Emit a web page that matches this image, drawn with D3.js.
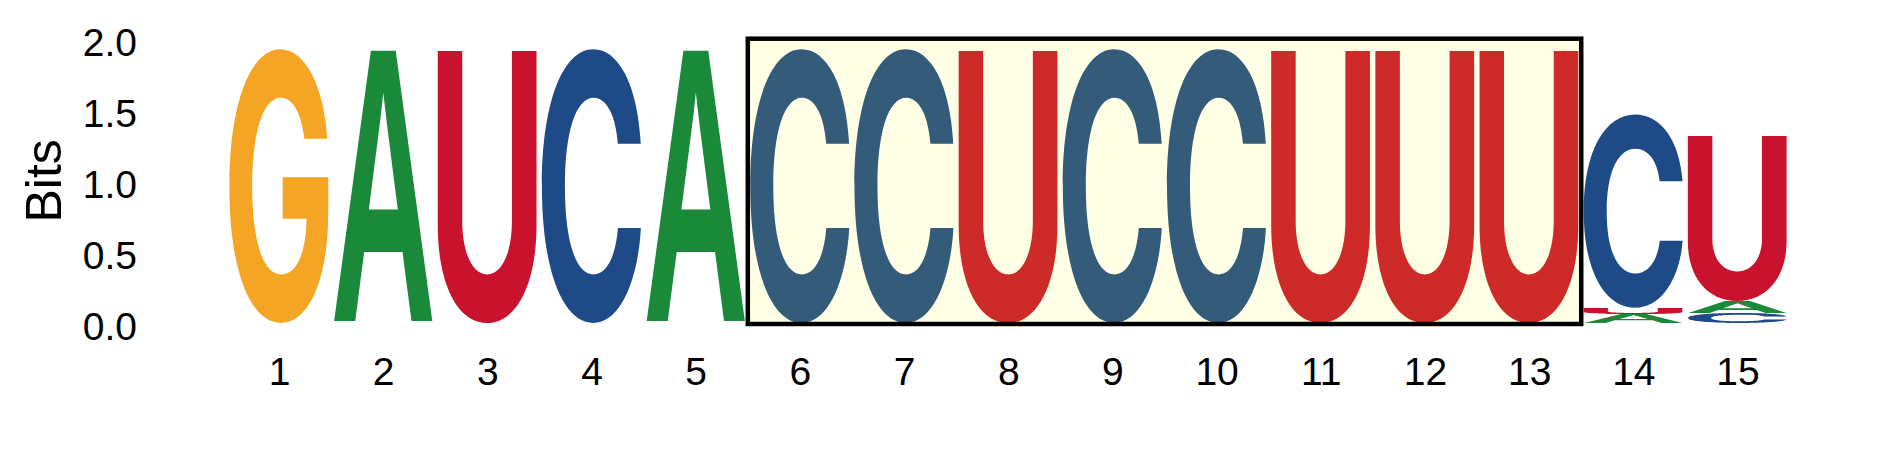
<!DOCTYPE html>
<html><head><meta charset="utf-8">
<script src="https://cdn.jsdelivr.net/npm/d3@7"></script>
<style>html,body{margin:0;padding:0;background:#fff;} svg{display:block}</style>
</head><body>
<svg id="chart" width="1889" height="472"></svg>
<script>
// ---- data ----
const positions = d3.range(1, 16);
const bases = ["A", "C", "G", "U"];
const bitsA = [0, 1.92, 0, 0, 1.92, 0, 0, 0, 0, 0, 0, 0, 0, 0.066, 0.082];
const bitsC = [0, 0, 0, 1.92, 0, 1.92, 1.92, 0, 1.92, 1.92, 0, 0, 0, 1.356, 0.068];
const bitsG = [1.92, 0, 0, 0, 0, 0, 0, 0, 0, 0, 0, 0, 0, 0, 0];
const bitsU = [0, 0, 1.92, 0, 0, 0, 0, 1.92, 0, 0, 1.92, 1.92, 1.92, 0.041, 1.166];
// bottom-to-top stacking order at each position
const stackOrder = [
  ["G"], ["A"], ["U"], ["C"], ["A"], ["C"], ["C"], ["U"], ["C"], ["C"],
  ["U"], ["U"], ["U"], ["A", "U", "C"], ["C", "A", "U"]
];
const yTicks = [0, 0.5, 1.0, 1.5, 2.0];
const yLabel = "Bits";
const highlightStart = 6, highlightEnd = 13, highlightTop = 2.0, highlightBottom = -0.007;
const baseColors = {A: "#1A8A3A", C: "#1E4A88", G: "#F4A523", U: "#C8122E"};

const bitsByBase = {A: bitsA, C: bitsC, G: bitsG, U: bitsU};

// ---- layout ----
const svg = d3.select("#chart");
const x = d3.scaleLinear().domain([1, 15]).range([279, 1737.5]);
const step = x(2) - x(1);
const letterW = step * 0.955;
const y = d3.scaleLinear().domain([0, 2]).range([323, 38.7]);
const FONT = "'Liberation Sans', Arial, Helvetica, sans-serif";
const glyphFont = {
  A: "'Liberation Sans', Arial, sans-serif",
  C: "Inter, 'Liberation Sans', Arial, sans-serif",
  G: "Inter, 'Liberation Sans', Arial, sans-serif",
  U: "Inter, 'Liberation Sans', Arial, sans-serif"
};
const GWEIGHT = 700;

// measure glyph ink boxes
const cv = document.createElement("canvas").getContext("2d");
const GFS = 200;
const ink = {};
bases.forEach(b => {
  cv.font = `${GWEIGHT} ${GFS}px ${glyphFont[b]}`;
  const m = cv.measureText(b);
  ink[b] = {L: m.actualBoundingBoxLeft, R: m.actualBoundingBoxRight,
            A: m.actualBoundingBoxAscent, D: m.actualBoundingBoxDescent};
});

// build letter records
const glyphs = [];
positions.forEach((p, i) => {
  let cum = 0;
  stackOrder[i].forEach(b => {
    const v = bitsByBase[b][i];
    if (v > 0) {
      glyphs.push({pos: p, base: b, y0: cum, y1: cum + v});
      cum += v;
    }
  });
});

const gL = svg.append("g").attr("class", "letters");
gL.selectAll("text").data(glyphs).enter().append("text")
  .text(d => d.base)
  .attr("font-family", d => glyphFont[d.base])
  .attr("font-weight", GWEIGHT)
  .attr("font-size", GFS)
  .attr("fill", d => baseColors[d.base])
  .attr("transform", d => {
    const k = ink[d.base];
    const rx = x(d.pos) - letterW / 2;
    const ry = y(d.y1);
    const h = y(d.y0) - y(d.y1);
    const sx = letterW / (k.L + k.R);
    const sy = h / (k.A + k.D);
    return `translate(${rx},${ry}) scale(${sx},${sy}) translate(${k.L},${k.A})`;
  });

// highlight box (drawn over letters)
svg.append("rect")
  .attr("x", x(highlightStart - 0.5))
  .attr("y", y(highlightTop))
  .attr("width", x(highlightEnd + 0.5) - x(highlightStart - 0.5))
  .attr("height", y(highlightBottom) - y(highlightTop))
  .attr("fill", "yellow").attr("fill-opacity", 0.1)
  .attr("stroke", "#000").attr("stroke-width", 4.5);

// y axis
const yAxis = svg.append("g").attr("transform", "translate(147,0)")
  .call(d3.axisLeft(y).tickValues(yTicks).tickFormat(d3.format(".1f")).tickSize(0).tickPadding(10));
yAxis.select(".domain").remove();
yAxis.selectAll("text").attr("font-family", FONT).attr("font-size", 39).attr("fill", "#000").attr("dy", "0.42em");

// x axis
const xAxis = svg.append("g").attr("transform", `translate(0,${y(0)})`)
  .call(d3.axisBottom(x).tickValues(positions).tickFormat(d3.format("d")).tickSize(0).tickPadding(34));
xAxis.select(".domain").remove();
xAxis.selectAll("text").attr("font-family", FONT).attr("font-size", 39).attr("fill", "#000");

// y label
svg.append("text")
  .attr("transform", `translate(61,${(y(0) + y(2)) / 2}) rotate(-90)`)
  .attr("text-anchor", "middle")
  .attr("font-family", FONT).attr("font-size", 50).attr("fill", "#000")
  .text(yLabel);
</script>
</body></html>
